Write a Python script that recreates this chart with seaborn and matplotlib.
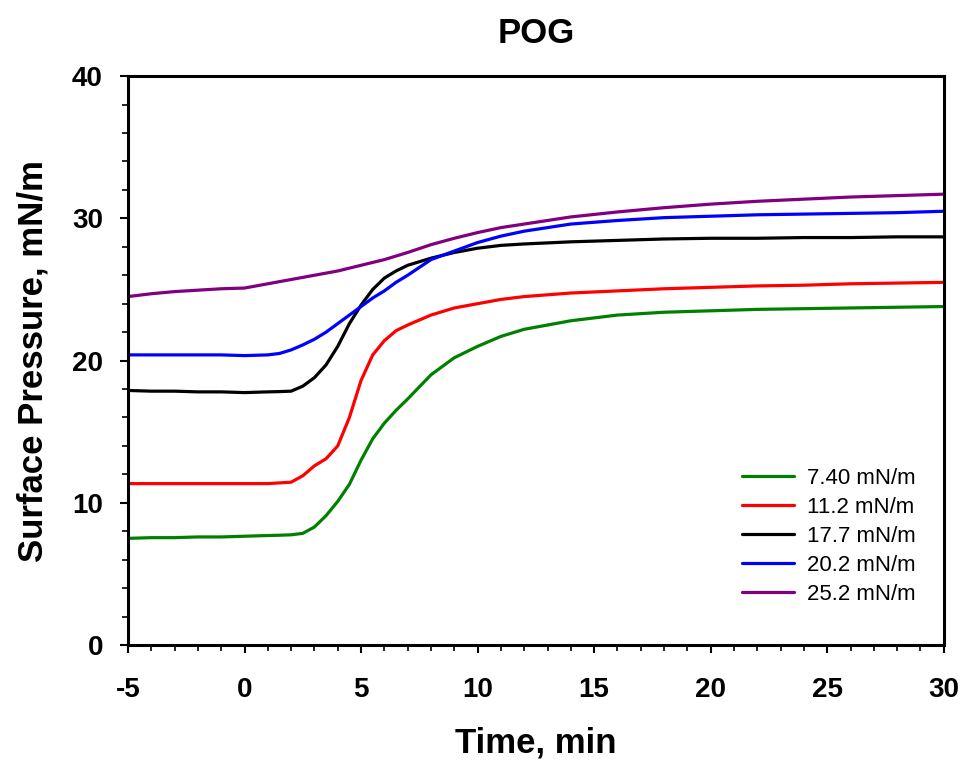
import pandas as pd
import seaborn as sns
import matplotlib.pyplot as plt
from matplotlib.ticker import MultipleLocator

# time grid, min
time = [-5, -4, -3, -2, -1, 0, 1, 1.5, 2, 2.5, 3, 3.5, 4, 4.5, 5, 5.5, 6, 6.5, 7,
        8, 9, 10, 11, 12, 14, 16, 18, 20, 22, 24, 26, 28, 30]

# surface pressure, mN/m
p_740 = [7.5, 7.55, 7.55, 7.6, 7.6, 7.65, 7.7, 7.72, 7.75, 7.85, 8.3, 9.1, 10.1, 11.3, 13.0,
         14.5, 15.6, 16.5, 17.3, 19.0, 20.2, 21.0, 21.7, 22.2, 22.8, 23.2, 23.4, 23.5, 23.6,
         23.65, 23.7, 23.75, 23.8]
p_112 = [11.35, 11.35, 11.35, 11.35, 11.35, 11.35, 11.35, 11.4, 11.45, 11.9, 12.6, 13.1, 14.0,
         16.0, 18.6, 20.4, 21.4, 22.1, 22.5, 23.2, 23.7, 24.0, 24.3, 24.5, 24.75, 24.9, 25.05,
         25.15, 25.25, 25.3, 25.4, 25.45, 25.5]
p_177 = [17.9, 17.85, 17.85, 17.8, 17.8, 17.75, 17.8, 17.82, 17.85, 18.2, 18.8, 19.7, 21.0,
         22.6, 23.9, 25.0, 25.8, 26.3, 26.7, 27.2, 27.6, 27.9, 28.1, 28.2, 28.35, 28.45, 28.55,
         28.6, 28.6, 28.65, 28.65, 28.7, 28.7]
p_202 = [20.4, 20.4, 20.4, 20.4, 20.4, 20.35, 20.4, 20.5, 20.75, 21.1, 21.5, 22.0, 22.6, 23.2,
         23.8, 24.4, 24.9, 25.5, 26.0, 27.1, 27.7, 28.3, 28.75, 29.1, 29.6, 29.85, 30.05, 30.15,
         30.25, 30.3, 30.35, 30.4, 30.5]
p_252 = [24.5, 24.7, 24.85, 24.95, 25.05, 25.1, 25.4, 25.55, 25.7, 25.85, 26.0, 26.15, 26.3,
         26.5, 26.7, 26.9, 27.1, 27.35, 27.6, 28.15, 28.6, 29.0, 29.35, 29.6, 30.1, 30.45, 30.75,
         31.0, 31.2, 31.35, 31.5, 31.6, 31.7]

labels = ['7.40 mN/m', '11.2 mN/m', '17.7 mN/m', '20.2 mN/m', '25.2 mN/m']
series = [p_740, p_112, p_177, p_202, p_252]
colors = ['#008000', '#ff0000', '#000000', '#0000ff', '#800080']

df = pd.concat([pd.DataFrame({'time': time, 'pressure': s, 'film': lab})
                for lab, s in zip(labels, series)], ignore_index=True)

sns.set_theme(style='ticks')
plt.rcParams['font.family'] = ['Liberation Sans', 'DejaVu Sans']
plt.rcParams['axes.unicode_minus'] = False
for key in ['text.color', 'axes.labelcolor', 'xtick.color', 'ytick.color', 'axes.edgecolor']:
    plt.rcParams[key] = 'black'

fig = plt.figure(figsize=(9.65, 7.69), dpi=100)
ax = fig.add_axes([0.1326, 0.1612, 0.8454, 0.7398])

sns.lineplot(data=df, x='time', y='pressure', hue='film', hue_order=labels,
             palette=dict(zip(labels, colors)), estimator=None, sort=False,
             linewidth=2.3, ax=ax)

ax.set_xlim(-5, 30)
ax.set_ylim(0, 40)
ax.xaxis.set_major_locator(MultipleLocator(5))
ax.xaxis.set_minor_locator(MultipleLocator(1))
ax.yaxis.set_major_locator(MultipleLocator(10))
ax.yaxis.set_minor_locator(MultipleLocator(2))
ax.tick_params(which='major', direction='out', length=6, width=1.5, labelsize=20)
ax.tick_params(which='minor', direction='out', length=4, width=1.2)
ax.tick_params(axis='x', which='major', pad=17)
ax.tick_params(axis='y', which='major', pad=12)
for lbl in ax.get_xticklabels() + ax.get_yticklabels():
    lbl.set_fontweight('bold')
for sp in ax.spines.values():
    sp.set_visible(True)
    sp.set_linewidth(2.2)
    sp.set_color('black')

ax.set_xlabel('Time, min', fontsize=25, fontweight='bold', labelpad=17)
ax.set_ylabel('Surface Pressure, mN/m', fontsize=25, fontweight='bold', labelpad=16)
ax.set_title('POG', fontsize=25, fontweight='bold', pad=24)

ax.legend(loc='lower right', bbox_to_anchor=(0.99, 0.035), frameon=False, fontsize=16,
          handlelength=2.3, handletextpad=0.6, labelspacing=0.36)

fig.savefig('out.png', dpi=100)
